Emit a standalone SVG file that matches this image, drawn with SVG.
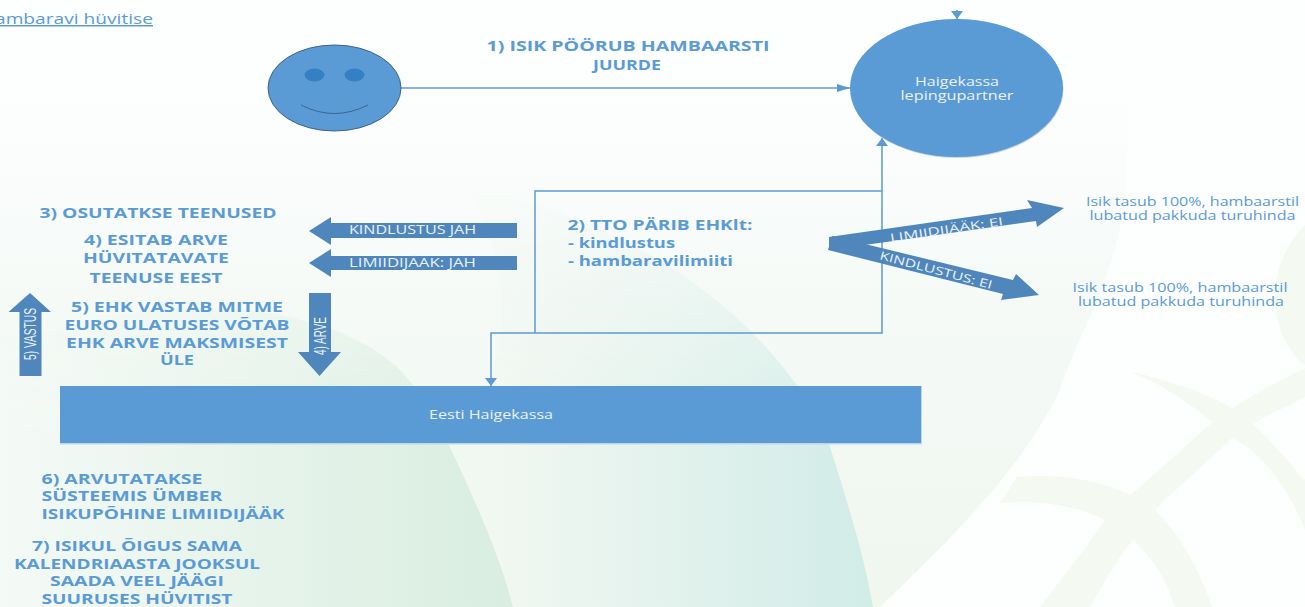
<svg xmlns="http://www.w3.org/2000/svg" width="1305" height="607" viewBox="0 0 1305 607">
<style>
text{font-family:"Open Sans","Liberation Sans",sans-serif}
.h{font-size:14.500px;font-weight:700;fill:#5b9bd5;text-anchor:middle}
.n{font-size:12.500px;fill:#5b9bd5;text-anchor:middle}
.w{font-size:12.500px;fill:#eaf2fa;text-anchor:middle}
.s{font-size:11.500px}
.t{font-size:16px;fill:#eaf2fa;text-anchor:middle;font-family:"Liberation Sans",sans-serif}
.a{fill:#4f86bb}
.c{fill:none;stroke:#5b9bd5;stroke-width:1.500}
.sw{fill:#f4f9f2}
</style>
<defs>
<linearGradient id="pale" gradientUnits="userSpaceOnUse" x1="0" y1="90" x2="0" y2="607"><stop offset="0" stop-color="#fdfefe"/><stop offset=".4" stop-color="#f5faf7"/><stop offset="1" stop-color="#eff7ef"/></linearGradient>
<linearGradient id="green" gradientUnits="userSpaceOnUse" x1="0" y1="0" x2="510" y2="0"><stop offset="0" stop-color="#f4faf6"/><stop offset="1" stop-color="#d9ede0"/></linearGradient>
<linearGradient id="teal" gradientUnits="userSpaceOnUse" x1="500" y1="0" x2="860" y2="0"><stop offset="0" stop-color="#f1f7f1"/><stop offset="1" stop-color="#d2ece8"/></linearGradient>
<linearGradient id="fade" gradientUnits="userSpaceOnUse" x1="0" y1="170" x2="0" y2="440"><stop offset="0" stop-color="#000"/><stop offset="1" stop-color="#fff"/></linearGradient>
<mask id="mf" maskUnits="userSpaceOnUse" x="0" y="0" width="1305" height="607"><rect width="1305" height="607" fill="url(#fade)"/></mask>
<marker id="mh" markerWidth="13" markerHeight="8" refX="13" refY="4" orient="auto" markerUnits="userSpaceOnUse"><path d="M0 0L13 4L0 8z" fill="#5b9bd5"/></marker>
<marker id="mv" markerWidth="8" markerHeight="12" refX="8" refY="6" orient="auto" markerUnits="userSpaceOnUse"><path d="M0 0L8 6L0 12z" fill="#5b9bd5"/></marker>
</defs>
<g id="background">
<rect width="1305" height="607" fill="#fdfefe"/>
<path d="M0 90H1130L1125 200C1115 280 1075 340 1060 390C1020 470 960 530 880 607H0Z" fill="url(#pale)"/>
<g mask="url(#mf)">
<path d="M0 350C150 285 320 300 395 365C425 395 440 425 450 447C480 510 503 565 513 607H0Z" fill="url(#green)"/>
<path d="M470 190C650 220 790 340 830 447C850 510 865 560 873 607H513C503 565 480 510 450 447C510 380 520 280 470 190Z" fill="url(#teal)"/>
</g>
<path class="sw" d="M1305 225C1270 260 1262 320 1300 362L1305 365Z"/>
<path class="sw" d="M1130 372C1170 380 1210 395 1232 408C1265 430 1290 465 1305 480V530C1290 490 1260 450 1232 438C1200 410 1165 385 1130 372Z"/>
<path class="sw" d="M1305 368C1270 385 1235 405 1215 420C1180 450 1155 475 1130 495L1105 520C1085 550 1060 580 1040 607H1090C1105 580 1120 555 1133 540L1155 510C1180 485 1210 460 1232 438C1255 420 1280 410 1305 397Z"/>
<path class="sw" d="M1017 477C1060 473 1100 480 1130 495L1155 510C1180 535 1200 570 1212 607H1175C1165 575 1150 555 1133 540L1105 520C1075 505 1040 500 1000 503Z"/>
</g>
<text id="title" x="-5" y="24" font-size="15" fill="#5b9bd5" text-decoration="underline" textLength="158" lengthAdjust="spacingAndGlyphs">ambaravi hüvitise</text>
<g id="connectors">
<path class="c" marker-end="url(#mh)" d="M400 88H850"/>
<path class="c" marker-end="url(#mv)" d="M535 333V191H882V138"/>
<path class="c" marker-end="url(#mv)" d="M882 191V333H491V386"/>
<path class="c" marker-end="url(#mv)" d="M957 10V19"/>
</g>
<g id="person">
<ellipse cx="334.500" cy="88" rx="66.500" ry="43" fill="#5b9bd5" stroke="#3d6489"/>
<ellipse cx="314.500" cy="75" rx="10" ry="6.500" fill="#3580c4"/>
<ellipse cx="354.500" cy="75" rx="10" ry="6.500" fill="#3580c4"/>
<path d="M301 105Q334 122 368 105" fill="none" stroke="#3d6489" stroke-width="1"/>
</g>
<g id="partner">
<ellipse cx="957" cy="89" rx="106.500" ry="69" fill="#c8d6e0"/>
<ellipse cx="956.500" cy="88" rx="106.500" ry="69" fill="#5b9bd5"/>
<text class="w" x="957" y="86" textLength="84" lengthAdjust="spacingAndGlyphs">Haigekassa</text>
<text class="w" x="957" y="100" textLength="113" lengthAdjust="spacingAndGlyphs">lepingupartner</text>
</g>
<g id="haigekassa">
<rect x="60" y="386" width="862" height="58.500" fill="#bcd7ea"/>
<rect x="60" y="386" width="861" height="57" fill="#5b9bd5"/>
<text class="w" x="491" y="419" textLength="124" lengthAdjust="spacingAndGlyphs">Eesti Haigekassa</text>
</g>
<g id="labels">
<text class="h" x="628" y="51" textLength="283" lengthAdjust="spacingAndGlyphs">1) ISIK PÖÖRUB HAMBAARSTI</text>
<text class="h" x="627" y="70" textLength="68" lengthAdjust="spacingAndGlyphs">JUURDE</text>
<text class="h" x="158" y="218" textLength="237" lengthAdjust="spacingAndGlyphs">3) OSUTATKSE TEENUSED</text>
<text class="h" x="156" y="245" textLength="144" lengthAdjust="spacingAndGlyphs">4) ESITAB ARVE</text>
<text class="h" x="156" y="263" textLength="146" lengthAdjust="spacingAndGlyphs">HÜVITATAVATE</text>
<text class="h" x="156" y="283" textLength="133" lengthAdjust="spacingAndGlyphs">TEENUSE EEST</text>
<text class="h" x="177" y="312" textLength="212" lengthAdjust="spacingAndGlyphs">5) EHK VASTAB MITME</text>
<text class="h" x="177" y="330" textLength="225" lengthAdjust="spacingAndGlyphs">EURO ULATUSES VÕTAB</text>
<text class="h" x="177" y="348" textLength="222" lengthAdjust="spacingAndGlyphs">EHK ARVE MAKSMISEST</text>
<text class="h" x="177" y="365" textLength="34" lengthAdjust="spacingAndGlyphs">ÜLE</text>
<text class="h" x="660" y="230" textLength="185" lengthAdjust="spacingAndGlyphs">2) TTO PÄRIB EHKlt:</text>
<text class="h" x="621.500" y="248" textLength="107" lengthAdjust="spacingAndGlyphs">- kindlustus</text>
<text class="h" x="650.500" y="266" textLength="165" lengthAdjust="spacingAndGlyphs">- hambaravilimiiti</text>
<text class="h" x="122" y="484" textLength="161" lengthAdjust="spacingAndGlyphs">6) ARVUTATAKSE</text>
<text class="h" x="132" y="501" textLength="181" lengthAdjust="spacingAndGlyphs">SÜSTEEMIS ÜMBER</text>
<text class="h" x="163" y="519" textLength="243" lengthAdjust="spacingAndGlyphs">ISIKUPÕHINE LIMIIDIJÄÄK</text>
<text class="h" x="137" y="551" textLength="210" lengthAdjust="spacingAndGlyphs">7) ISIKUL ÕIGUS SAMA</text>
<text class="h" x="137" y="569" textLength="246" lengthAdjust="spacingAndGlyphs">KALENDRIAASTA JOOKSUL</text>
<text class="h" x="137" y="586" textLength="174" lengthAdjust="spacingAndGlyphs">SAADA VEEL JÄÄGI</text>
<text class="h" x="137" y="604" textLength="191" lengthAdjust="spacingAndGlyphs">SUURUSES HÜVITIST</text>
<text class="n" x="1192.500" y="206" textLength="213" lengthAdjust="spacingAndGlyphs">Isik tasub 100%, hambaarstil</text>
<text class="n" x="1192.500" y="220" textLength="206" lengthAdjust="spacingAndGlyphs">lubatud pakkuda turuhinda</text>
<text class="n" x="1180" y="292" textLength="215" lengthAdjust="spacingAndGlyphs">Isik tasub 100%, hambaarstil</text>
<text class="n" x="1181" y="306" textLength="206" lengthAdjust="spacingAndGlyphs">lubatud pakkuda turuhinda</text>
</g>
<g id="arrow-kindlustus-jah">
<path class="a" d="M517 223V238H331V245L309 231L331 217V223Z"/>
<text class="w" x="412.500" y="234" textLength="127" lengthAdjust="spacingAndGlyphs">KINDLUSTUS JAH</text>
</g>
<g id="arrow-limiidijaak-jah">
<path class="a" d="M517 256V270H331V277L309 263L331 249V256Z"/>
<text class="w" x="412.500" y="267" textLength="127" lengthAdjust="spacingAndGlyphs">LIMIIDIJÄÄK: JAH</text>
</g>
<g id="arrow-vastus">
<path class="a" d="M19.500 376V312H8.500L30 293L51 312H41.500V376Z"/>
<text class="t" transform="translate(35.500,334) rotate(-90)" textLength="52" lengthAdjust="spacingAndGlyphs">5) VASTUS</text>
</g>
<g id="arrow-arve">
<path class="a" d="M309 293H331V352H341L319.500 376L298 352H309Z"/>
<text class="t" transform="translate(326,336) rotate(-90)" textLength="38" lengthAdjust="spacingAndGlyphs">4) ARVE</text>
</g>
<g id="arrow-kindlustus-ei">
<path class="a" d="M828 250L1003 294L1001 300L1039 295L1016 274L1013 280L832 236Z"/>
<text class="w s" transform="translate(935,274) rotate(15)" textLength="116" lengthAdjust="spacingAndGlyphs">KINDLUSTUS: EI</text>
</g>
<g id="arrow-limiidijaak-ei">
<path class="a" d="M829 237L1032 208L1027 200L1064 208L1037 227L1036 221L829 250Z"/>
<text class="w s" transform="translate(947,233.500) rotate(-8.500)" textLength="114" lengthAdjust="spacingAndGlyphs">LIMIIDIJÄÄK: EI</text>
</g>
</svg>
